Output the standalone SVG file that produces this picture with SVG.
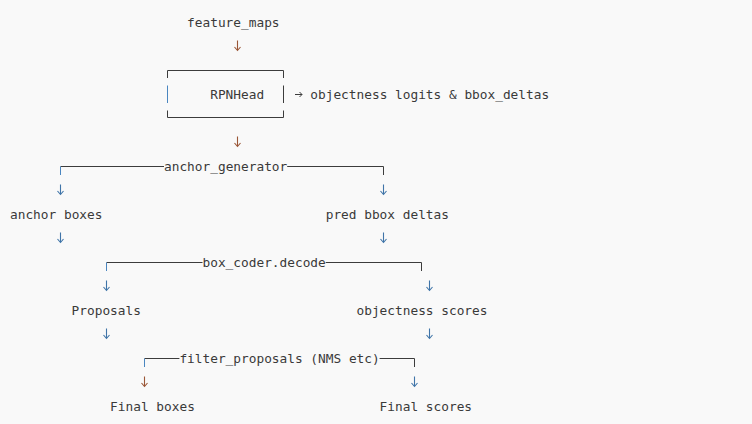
<svg xmlns="http://www.w3.org/2000/svg" xmlns:xlink="http://www.w3.org/1999/xlink" width="752" height="424" viewBox="0 0 752 424">
  <style>
    .t { font-family: "DejaVu Sans Mono", "Liberation Mono", monospace; font-size: 12.8px; fill: #3a3a3a; }
    .ln { stroke: #3c3c3c; stroke-width: 1; fill: none; }
    .lb { stroke: #4a86c0; stroke-width: 1; fill: none; }
    .ab { stroke: #3f74a8; stroke-width: 1.1; fill: none; }
    .ar { stroke: #9a5636; stroke-width: 1.1; fill: none; }
  </style>
  <defs>
    <path id="dn" d="M0 -5.5 V4.5 M-3 1 L0 4.5 L3 1"/>
  </defs>
  <rect width="752" height="424" fill="#f9f9f9"/>

  <g id="connectors">
    <!-- feature_maps -> RPNHead -->
    <use xlink:href="#dn" href="#dn" x="237.5" y="46" class="ar"/>
    <!-- RPNHead -> objectness output -->
    <path class="ln" d="M295 94.5 H302 M299.5 92 L302 94.5 L299.5 97"/>
    <!-- RPNHead -> anchor_generator -->
    <use xlink:href="#dn" href="#dn" x="237.5" y="142" class="ar"/>
    <!-- anchor_generator bracket -->
    <path class="ln" d="M60.5 166.5 H164 M287.2 166.5 H383.5 V175"/>
    <path class="lb" d="M60.5 166.5 V175"/>
    <use xlink:href="#dn" href="#dn" x="60.5" y="190" class="ab"/>
    <use xlink:href="#dn" href="#dn" x="383.5" y="190" class="ab"/>
    <use xlink:href="#dn" href="#dn" x="60.5" y="238" class="ab"/>
    <use xlink:href="#dn" href="#dn" x="383.5" y="238" class="ab"/>
    <!-- box_coder.decode bracket -->
    <path class="ln" d="M106.5 262.5 H202.5 M325.7 262.5 H421.5 V271"/>
    <path class="lb" d="M106.5 262.5 V271"/>
    <use xlink:href="#dn" href="#dn" x="106.5" y="286" class="ab"/>
    <use xlink:href="#dn" href="#dn" x="429.5" y="286" class="ab"/>
    <use xlink:href="#dn" href="#dn" x="106.5" y="334" class="ab"/>
    <use xlink:href="#dn" href="#dn" x="429.5" y="334" class="ab"/>
    <!-- filter_proposals bracket -->
    <path class="ln" d="M144.5 358.5 H179.4 M379.6 358.5 H414.5 V367"/>
    <path class="lb" d="M144.5 358.5 V367"/>
    <use xlink:href="#dn" href="#dn" x="144.5" y="382" class="ar"/>
    <use xlink:href="#dn" href="#dn" x="414.5" y="382" class="ab"/>
  </g>

  <g id="feature_maps">
    <text class="t" x="187.1" y="26.6">feature_maps</text>
  </g>

  <g id="rpnhead">
    <path class="ln" d="M167.5 78 V70.5 H283.5 V78"/>
    <path class="lb" d="M167.5 85.5 V103"/>
    <path class="ln" d="M283.5 85.5 V103"/>
    <path class="ln" d="M167.5 110.5 V117.5 H283.5 V110.5"/>
    <text class="t" x="210.2" y="98.6">RPNHead</text>
  </g>

  <g id="rpn_outputs">
    <text class="t" x="310.3" y="98.6">objectness logits &amp; bbox_deltas</text>
  </g>

  <g id="anchor_generator">
    <text class="t" x="164" y="170.6">anchor_generator</text>
  </g>

  <g id="anchor_boxes">
    <text class="t" x="10" y="218.6">anchor boxes</text>
  </g>

  <g id="pred_bbox_deltas">
    <text class="t" x="325.7" y="218.6">pred bbox deltas</text>
  </g>

  <g id="box_coder_decode">
    <text class="t" x="202.5" y="266.6">box_coder.decode</text>
  </g>

  <g id="proposals">
    <text class="t" x="71.6" y="314.6">Proposals</text>
  </g>

  <g id="objectness_scores">
    <text class="t" x="356.5" y="314.6">objectness scores</text>
  </g>

  <g id="filter_proposals">
    <text class="t" x="179.4" y="362.6">filter_proposals (NMS etc)</text>
  </g>

  <g id="final_boxes">
    <text class="t" x="110.1" y="410.6">Final boxes</text>
  </g>

  <g id="final_scores">
    <text class="t" x="379.6" y="410.6">Final scores</text>
  </g>
</svg>
